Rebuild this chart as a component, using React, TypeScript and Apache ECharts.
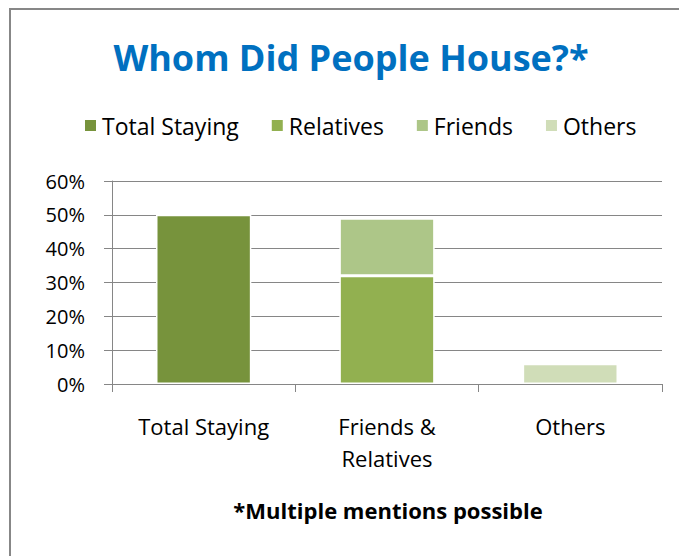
import React, { useEffect, useRef } from "react";
import * as echarts from "echarts";

const categories = ["Total Staying", "Friends &\nRelatives", "Others"];
const seriesNames = ["Total Staying", "Relatives", "Friends", "Others"];
const totalStaying = [50, null, null];
const relatives = [null, 32, null];
const friends = [null, 17, null];
const others = [null, null, 6];
const yTicks = [0, 10, 20, 30, 40, 50, 60];

const colors = ["#77933C", "#92B050", "#ADC688", "#D0DDB8"];
const FONT = "'Open Sans', 'Noto Sans', sans-serif";

export default function App() {
  const ref = useRef<HTMLDivElement>(null);
  useEffect(() => {
    const chart = echarts.init(ref.current!, null, { renderer: "svg" });
    const values = [totalStaying, relatives, friends, others];
    chart.setOption({
      animation: false,
      backgroundColor: "#ffffff",
      legend: {
        data: seriesNames,
        top: 109,
        left: 78,
        itemWidth: 13,
        itemHeight: 13,
        itemGap: 31,
        icon: "rect",
        textStyle: { fontSize: 23, color: "#000", fontFamily: FONT },
      },
      grid: { left: 112, right: 17, top: 181, bottom: 172, containLabel: false },
      xAxis: {
        type: "category",
        data: categories,
        axisLine: { lineStyle: { color: "#868686", width: 1 } },
        axisTick: { show: true, length: 8, lineStyle: { color: "#868686" } },
        axisLabel: { fontSize: 22, color: "#000", margin: 26, lineHeight: 32, fontFamily: FONT },
      },
      yAxis: {
        type: "value",
        min: 0,
        max: 60,
        interval: 10,
        axisLine: { show: true, lineStyle: { color: "#868686" } },
        axisTick: { show: true, length: 8, lineStyle: { color: "#868686" } },
        splitLine: { lineStyle: { color: "#868686", width: 1 } },
        axisLabel: {
          fontSize: 20,
          color: "#000",
          margin: 27,
          fontFamily: FONT,
          formatter: (v: number) => (yTicks.includes(v) ? v + "%" : ""),
        },
      },
      series: seriesNames.map((name, i) => ({
        name,
        type: "bar",
        stack: "all",
        barWidth: "52%",
        data: values[i],
        itemStyle: { color: colors[i], borderColor: "#ffffff", borderWidth: 1.5 },
      })),
      graphic: [
        {
          type: "rect",
          shape: { x: 10, y: 9, width: 720, height: 620 },
          style: { fill: "none", stroke: "#878787", lineWidth: 2 },
          silent: true,
        },
        {
          type: "text",
          x: 351,
          y: 57,
          style: {
            text: "Whom Did People House?*",
            fontSize: 36,
            fontWeight: "bold",
            fill: "#0070C0",
            fontFamily: FONT,
            textAlign: "center",
            textVerticalAlign: "middle",
          },
        },
        {
          type: "text",
          x: 388,
          y: 510,
          style: {
            text: "*Multiple mentions possible",
            fontSize: 22,
            fontWeight: "bold",
            fill: "#000",
            fontFamily: FONT,
            textAlign: "center",
            textVerticalAlign: "middle",
          },
        },
      ],
    });
    return () => chart.dispose();
  }, []);
  return (
    <div
      ref={ref}
      style={{ position: "fixed", left: 0, top: 0, width: 679, height: 556 }}
    />
  );
}
